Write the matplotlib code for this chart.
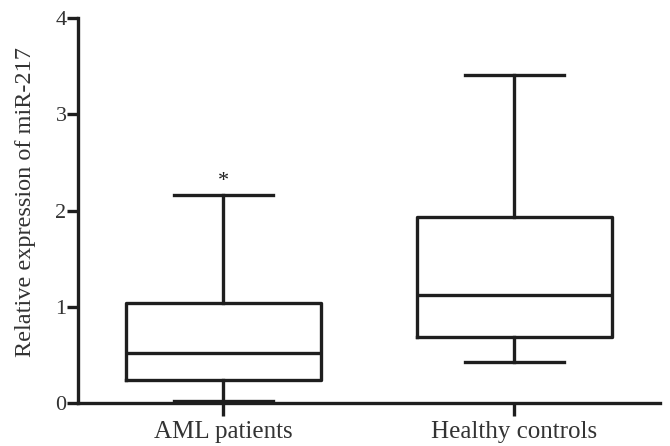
import matplotlib
matplotlib.use("Agg")
import matplotlib.pyplot as plt

# values
groups = ["AML patients", "Healthy controls"]
whisker_low = [0.02, 0.43]
q1 = [0.24, 0.69]
medians = [0.52, 1.12]
q3 = [1.04, 1.93]
whisker_high = [2.16, 3.41]
y_ticks = [0, 1, 2, 3, 4]

plt.rcParams["font.family"] = ["Liberation Serif", "DejaVu Serif"]

fig = plt.figure(figsize=(6.7, 4.46), dpi=100)
ax = fig.add_axes([0.116, 0.0964, 0.869, 0.8632])

stats = []
for i, name in enumerate(groups):
    stats.append({"label": name, "whislo": whisker_low[i], "q1": q1[i],
                  "med": medians[i], "q3": q3[i], "whishi": whisker_high[i],
                  "fliers": []})

col = "#1e1e1e"
lw = 2.4
ax.bxp(stats, positions=[1, 2], widths=0.67, showfliers=False,
       boxprops=dict(color=col, linewidth=lw),
       medianprops=dict(color=col, linewidth=lw),
       whiskerprops=dict(color=col, linewidth=lw),
       capprops=dict(color=col, linewidth=lw),
       capwidths=0.34)
for ln in ax.lines:
    ln.set_clip_on(False)

ax.text(1, whisker_high[0] + 0.04, "*", ha="center", va="bottom",
        fontsize=16, color=col)

ax.set_xlim(0.5, 2.5)
ax.set_ylim(0, 4)
ax.set_yticks(y_ticks)
ax.set_xticks([1, 2])
ax.set_xticklabels(groups, fontsize=18, color="#333333")
ax.tick_params(axis="y", labelsize=16, width=2.4, length=8, pad=0,
               labelcolor="#333333", color=col)
ax.tick_params(axis="x", width=2.4, length=9, pad=4, color=col)
ax.set_ylabel("Relative expression of miR-217", fontsize=17.5, color="#333333")
ax.yaxis.set_label_coords(-0.072, 0.522)

for side in ["top", "right"]:
    ax.spines[side].set_visible(False)
for side in ["left", "bottom"]:
    ax.spines[side].set_linewidth(2.4)
    ax.spines[side].set_color(col)

fig.savefig("out.png", dpi=100)
